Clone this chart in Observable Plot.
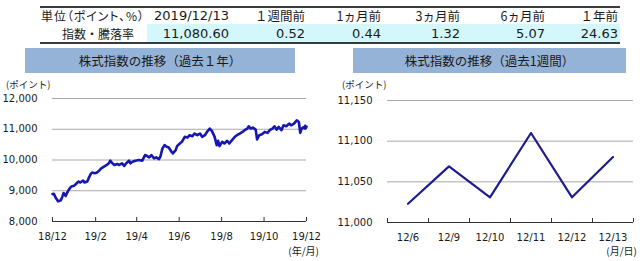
<!DOCTYPE html>
<html><head><meta charset="utf-8">
<script src="https://cdn.jsdelivr.net/npm/d3@7"></script>
<script src="https://cdn.jsdelivr.net/npm/@observablehq/plot@0.6"></script>
<style>
body{margin:0;background:#fff;}
#root{position:relative;width:640px;height:261px;overflow:hidden;font-family:"DejaVu Sans","Noto Sans CJK JP",sans-serif;color:#1a1a1a;}
.a{position:absolute;white-space:nowrap;}
.jp{font-family:"Noto Sans CJK JP",sans-serif;}
.num{font-family:"DejaVu Sans",sans-serif;font-size:13px;}
.bar{background:#95b3d7;text-align:center;font-family:"Noto Sans CJK JP",sans-serif;font-size:12.5px;color:#1a1a1a;}
</style></head><body><div id="root"></div>
<script>
// ---- data ----
const headerLabels = ["単位（ポイント、%）", "2019/12/13", "１週間前", "1ヵ月前", "3ヵ月前", "6ヵ月前", "１年前"];
const rowLabel = "指数・騰落率";
const rowValues = ["11,080.60", "0.52", "0.44", "1.32", "5.07", "24.63"];
const titleYear = "株式指数の推移（過去１年）";
const titleWeek = "株式指数の推移（過去1週間）";
const unitLabel = "(ポイント)";
const xUnitYear = "(年/月)";
const xUnitWeek = "(月/日)";

const yearDates = ["2018-12-13","2018-12-15","2018-12-17","2018-12-21","2018-12-25","2018-12-27","2018-12-29",
"2019-01-01","2019-01-03","2019-01-06","2019-01-09","2019-01-13","2019-01-16","2019-01-19","2019-01-22","2019-01-26","2019-01-28",
"2019-02-01","2019-02-03","2019-02-06","2019-02-08","2019-02-12","2019-02-15","2019-02-18","2019-02-21","2019-02-25",
"2019-03-01","2019-03-04","2019-03-06","2019-03-09","2019-03-12","2019-03-16","2019-03-19","2019-03-23","2019-03-26","2019-03-29",
"2019-04-02","2019-04-04","2019-04-07","2019-04-11","2019-04-16","2019-04-21","2019-04-25","2019-04-28",
"2019-05-01","2019-05-04","2019-05-08","2019-05-11","2019-05-15","2019-05-17","2019-05-20","2019-05-23","2019-05-26","2019-05-29",
"2019-06-02","2019-06-04","2019-06-08","2019-06-10","2019-06-14","2019-06-17","2019-06-21","2019-06-25","2019-06-28",
"2019-07-02","2019-07-05","2019-07-09","2019-07-13","2019-07-16","2019-07-20","2019-07-23","2019-07-27","2019-07-30",
"2019-08-03","2019-08-06","2019-08-08","2019-08-10","2019-08-14","2019-08-17","2019-08-21","2019-08-24","2019-08-28",
"2019-09-01","2019-09-04","2019-09-08","2019-09-12","2019-09-15","2019-09-19","2019-09-21","2019-09-24","2019-09-27",
"2019-10-01","2019-10-03","2019-10-06","2019-10-10","2019-10-14","2019-10-18","2019-10-21","2019-10-25","2019-10-28","2019-10-31",
"2019-11-03","2019-11-07","2019-11-10","2019-11-14","2019-11-18","2019-11-21","2019-11-25","2019-11-29",
"2019-12-02","2019-12-04","2019-12-06","2019-12-09","2019-12-10","2019-12-11","2019-12-12","2019-12-13"];
const yearValues = [8891,8900,8797,8655,8690,8800,8925,
8830,8935,9053,9140,9160,9226,9300,9268,9333,9268,
9300,9409,9548,9591,9570,9591,9656,9731,9785,
9839,9893,9978,9893,9839,9871,9839,9893,9806,9893,
9978,9893,9946,9978,10000,9978,10161,10129,
10086,10161,10054,10086,10032,10107,10377,10484,10430,10409,
10269,10215,10323,10452,10538,10591,10753,10731,10806,
10774,10860,10806,10860,10753,10806,10914,11022,10946,
10753,10484,10624,10452,10591,10538,10624,10538,10645,
10753,10806,10860,10914,10968,11022,11097,11022,11054,
10989,10667,10806,10839,10914,10882,10968,11022,11097,10989,
11075,10968,11129,11097,11183,11129,11183,11290,
11237,10882,11023,11069,11031,11110,11031,11080.6];

const yearStart = "2018-12-13", yearEnd = "2019-12-13";
const yearTickCount = 7;           // every 2 months: 18/12 ... 19/12
const yearYTicks = [8000, 9000, 10000, 11000, 12000];

const weekDays = ["12/6", "12/9", "12/10", "12/11", "12/12", "12/13"];
const weekValues = [11023, 11069, 11031, 11110, 11031, 11080.6];
const weekYTicks = [11000, 11050, 11100, 11150];

// ---- layout ----
const root = document.getElementById("root");
function el(cls, css, text) {
  const d = document.createElement("div");
  d.className = "a " + cls;
  Object.assign(d.style, css);
  if (text != null) d.textContent = text;
  root.appendChild(d);
  return d;
}
// table
el("", {left:"147px", top:"24px", width:"473px", height:"18px", background:"#d3f7fa"});
el("", {left:"40px", top:"6px", width:"580px", height:"2px", background:"#3a3a3a"});
el("", {left:"40px", top:"42px", width:"580px", height:"2px", background:"#3a3a3a"});
const colRight = [229, 305, 381, 460, 545, 618];
el("jp", {left:"41px", top:"9px", height:"14px", lineHeight:"14px", fontSize:"12px", fontFeatureSettings:"'palt'", letterSpacing:"0.9px"}, headerLabels[0]);
headerLabels.slice(1).forEach((t, i) => {
  const isNum = /^[0-9/]+$/.test(t);
  el(isNum ? "num" : "jp", {right:(640 - colRight[i]) + "px", top:"9px", height:"14px", lineHeight:"14px", fontSize: isNum ? "13px" : "12.5px", textAlign:"right"}, t);
});
el("jp", {left:"62px", top:"26px", height:"15px", lineHeight:"15px", fontSize:"12px"}, rowLabel);
rowValues.forEach((t, i) => {
  el("num", {right:(640 - colRight[i]) + "px", top:"26px", height:"15px", lineHeight:"15px", textAlign:"right"}, t);
});
// title bars
el("bar", {left:"25px", top:"48px", width:"270px", height:"25px", lineHeight:"25px"}, titleYear);
el("bar", {left:"353px", top:"48px", width:"273px", height:"25px", lineHeight:"25px"}, titleWeek);
// unit labels
el("jp", {left:"6px", top:"78px", fontSize:"9.5px", lineHeight:"13px"}, unitLabel);
el("jp", {left:"342px", top:"78px", fontSize:"9.5px", lineHeight:"13px"}, unitLabel);
el("jp", {right:(640 - 319) + "px", top:"244px", fontSize:"10px", lineHeight:"14px"}, xUnitYear);
el("jp", {right:"3px", top:"244px", fontSize:"10px", lineHeight:"14px"}, xUnitWeek);

// ---- charts ----
const yearData = yearDates.map((d, i) => ({date: new Date(d + "T00:00:00Z"), value: yearValues[i]}));
const t0 = new Date(yearStart + "T00:00:00Z"), t1 = new Date(yearEnd + "T00:00:00Z");
const yearXTicks = d3.range(yearTickCount).map(i => d3.utcMonth.offset(t0, 2 * i));
const axisStyle = {fontFamily:"DejaVu Sans", fontSize:"10px", color:"#1a1a1a", background:"transparent", overflow:"visible"};

const H = 186;
const L = {top: 23, bottom: 40};
const leftChart = Plot.plot({
  width: 322, height: H, marginLeft: 52, marginRight: 16, marginTop: L.top, marginBottom: L.bottom,
  style: axisStyle,
  x: {type: "utc", domain: [t0, t1], label: null},
  y: {domain: [8000, 12000], label: null},
  marks: [
    Plot.gridY(yearYTicks.slice(1), {stroke: "#a8a8a8", strokeOpacity: 1}),
    Plot.axisY({ticks: yearYTicks, tickFormat: d3.format(","), tickSize: 0, tickPadding: 15, label: null}),
    Plot.axisX({ticks: yearXTicks, tickFormat: d3.utcFormat("%y/%-m"), tickSize: 0, tickPadding: 11, label: null}),
    Plot.ruleY([8000], {stroke: "#333"}),
    Plot.tickX(yearXTicks, {x: d => d, stroke: "#333", insetTop: H - L.top - L.bottom - 4}),
    Plot.lineY(yearData, {x: "date", y: "value", stroke: "#1616b0", strokeWidth: 2.6})
  ]
});
leftChart.style.position = "absolute"; leftChart.style.left = "0px"; leftChart.style.top = "75px";
root.appendChild(leftChart);

const R = {top: 25, bottom: 39};
const weekData = weekDays.map((d, i) => ({i: i + 0.5, day: d, value: weekValues[i]}));
const rightChart = Plot.plot({
  width: 318, height: H, marginLeft: 65, marginRight: 7, marginTop: R.top, marginBottom: R.bottom,
  style: axisStyle,
  x: {domain: [0, weekDays.length], label: null},
  y: {domain: [11000, 11150], label: null},
  marks: [
    Plot.gridY(weekYTicks.slice(1), {stroke: "#a8a8a8", strokeOpacity: 1}),
    Plot.axisY({ticks: weekYTicks, tickFormat: d3.format(","), tickSize: 0, tickPadding: 15, label: null}),
    Plot.axisX({ticks: weekData.map(d => d.i), tickFormat: v => weekDays[Math.floor(v)], tickSize: 0, tickPadding: 11, label: null}),
    Plot.ruleY([11000], {stroke: "#333"}),
    Plot.tickX(d3.range(weekDays.length + 1), {x: d => d, stroke: "#333", insetTop: H - R.top - R.bottom - 4}),
    Plot.line(weekData, {x: "i", y: "value", stroke: "#1c1c8c", strokeWidth: 2.2})
  ]
});
rightChart.style.position = "absolute"; rightChart.style.left = "322px"; rightChart.style.top = "75px";
root.appendChild(rightChart);
</script>
</body></html>
